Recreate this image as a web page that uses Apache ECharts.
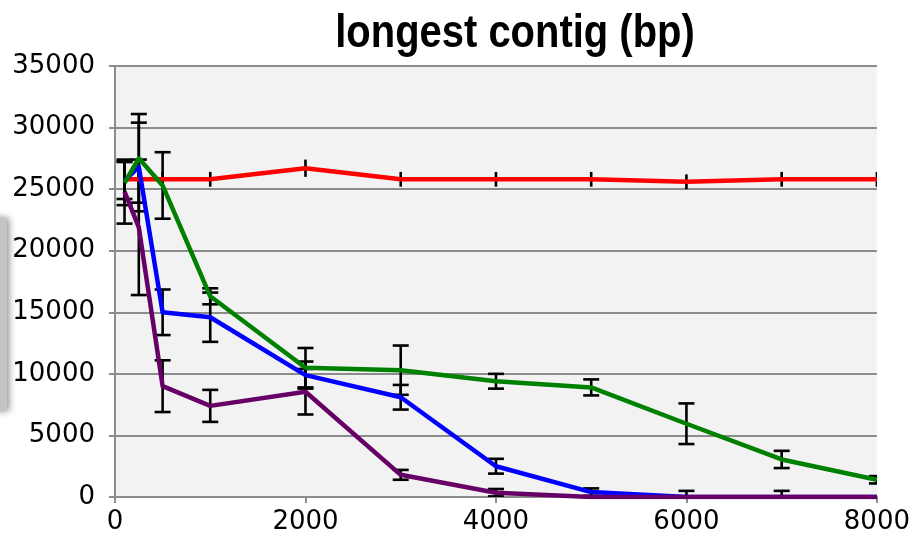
<!DOCTYPE html>
<html>
<head>
<meta charset="utf-8">
<style>
  html, body { margin: 0; padding: 0; background: #ffffff; }
  #chart { width: 913px; height: 539px; }
</style>
<script src="https://cdn.jsdelivr.net/npm/echarts@6/dist/echarts.min.js"></script>
</head>
<body>
<div id="chart"></div>
<script>
// Sample sizes along the x axis
var xs = [100, 250, 500, 1000, 2000, 3000, 4000, 5000, 6000, 7000, 8000];

// Longest contig (bp) per series, with symmetric error amounts
var redVals    = [25800, 25800, 25800, 25800, 26700, 25800, 25800, 25800, 25600, 25800, 25800];
var redErr     = [600, 600, 600, 600, 700, 600, 600, 600, 600, 600, 600];

var blueVals   = [25700, 26800, 15000, 14600, 9900, 8100, 2500, 400, 0, 0, 0];
var blueErr    = [1500, 3600, 1850, 2000, 1100, 1000, 600, 300, 500, 500, 0];

var greenVals  = [25500, 27500, 25300, 16300, 10500, 10300, 9400, 8900, 5950, 3050, 1400];
var greenErr   = [1800, 3600, 2700, 650, 1600, 2000, 600, 650, 1650, 700, 300];

var purpleVals = [24800, 21900, 9000, 7400, 8550, 1800, 350, 0, 0, 0, 0];
var purpleErr  = [2600, 5500, 2100, 1300, 1850, 400, 300, 0, 0, 0, 0];

var yTicks = { min: 0, max: 35000, step: 5000 };
var xTicks = { min: 0, max: 8000, step: 2000 };

var chart = echarts.init(document.getElementById('chart'), null, { renderer: 'canvas' });

function pairs(vals) {
  return xs.map(function (x, i) { return [x, vals[i]]; });
}
function ranges(vals, errs) {
  return xs.map(function (x, i) { return [x, vals[i] - errs[i], vals[i] + errs[i]]; });
}

// Black error bars: vertical stroke plus optional end caps
function errorBars(capHalf) {
  return function (params, api) {
    var x = api.value(0), lo = api.value(1), hi = api.value(2);
    if (hi === lo) return null;
    var top = api.coord([x, hi]);
    var bot = api.coord([x, lo]);
    var st = { stroke: '#000000', lineWidth: 2.6 };
    var kids = [{ type: 'line', shape: { x1: top[0], y1: top[1], x2: bot[0], y2: bot[1] }, style: st }];
    if (capHalf > 0) {
      kids.push({ type: 'line', shape: { x1: top[0] - capHalf, y1: top[1], x2: top[0] + capHalf, y2: top[1] }, style: st });
      kids.push({ type: 'line', shape: { x1: bot[0] - capHalf, y1: bot[1], x2: bot[0] + capHalf, y2: bot[1] }, style: st });
    }
    return { type: 'group', children: kids };
  };
}

function lineSeries(name, vals, color, z) {
  return {
    name: name, type: 'line', data: pairs(vals), symbol: 'none',
    lineStyle: { color: color, width: 4.5, join: 'round' },
    itemStyle: { color: color }, z: z, animation: false
  };
}
function errSeries(name, vals, errs, capHalf) {
  return {
    name: name + '-err', type: 'custom', data: ranges(vals, errs),
    renderItem: errorBars(capHalf), encode: { x: 0, y: [1, 2] },
    clip: true, z: 2, animation: false, silent: true
  };
}

function plain(v) { return String(v); }

var gray = '#8c8c8c';
var labelFont = '"DejaVu Sans", sans-serif';

chart.setOption({
  backgroundColor: '#ffffff',
  animation: false,
  graphic: [{
    type: 'rect', left: -12, top: 218,
    shape: { width: 19, height: 193 },
    style: { fill: '#c4c4c4', shadowColor: 'rgba(0,0,0,0.45)', shadowBlur: 7, shadowOffsetX: 2 },
    z: 1
  }, {
    // chart title, set in a condensed bold face
    type: 'text', x: 515, y: 34, scaleX: 0.85,
    style: {
      text: 'longest contig (bp)', align: 'center', verticalAlign: 'middle',
      font: 'bold 47px "Liberation Sans", sans-serif', fill: '#000000'
    },
    z: 10
  }],
  grid: {
    left: 115, right: 33, top: 66, bottom: 42,
    show: true, backgroundColor: '#f2f2f2', borderWidth: 0
  },
  xAxis: {
    type: 'value', min: xTicks.min, max: xTicks.max, interval: xTicks.step,
    axisLine: { show: true, lineStyle: { color: gray, width: 2 } },
    axisTick: { show: true, length: 6, lineStyle: { color: gray, width: 2 } },
    splitLine: { show: false },
    axisLabel: { color: '#000000', fontSize: 26, fontFamily: labelFont, margin: 12, formatter: plain }
  },
  yAxis: {
    type: 'value', min: yTicks.min, max: yTicks.max, interval: yTicks.step,
    axisLine: { show: true, lineStyle: { color: gray, width: 2 } },
    axisTick: { show: true, length: 6, lineStyle: { color: gray, width: 2 } },
    splitLine: { show: true, lineStyle: { color: gray, width: 2 } },
    axisLabel: { color: '#000000', fontSize: 26, fontFamily: labelFont, margin: 20, formatter: plain }
  },
  series: [
    errSeries('red', redVals, redErr, 0),
    errSeries('blue', blueVals, blueErr, 8),
    errSeries('green', greenVals, greenErr, 8),
    errSeries('purple', purpleVals, purpleErr, 8),
    lineSeries('red', redVals, '#ff0000', 3),
    lineSeries('blue', blueVals, '#0000ff', 4),
    lineSeries('green', greenVals, '#008000', 5),
    lineSeries('purple', purpleVals, '#660066', 6)
  ]
});
</script>
</body>
</html>
